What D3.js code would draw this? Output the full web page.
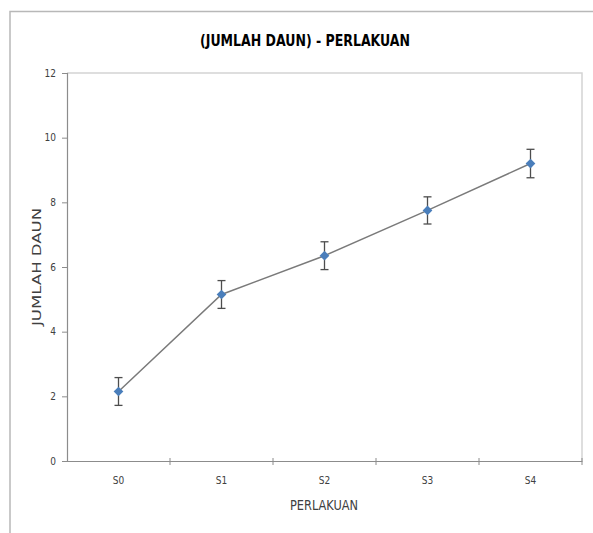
<!DOCTYPE html>
<html>
<head>
<meta charset="utf-8">
<script src="https://cdn.jsdelivr.net/npm/d3@7"></script>
<style>
    body { margin: 0; background: #fff; }
    svg { display: block; }
    .tick text { font-family: "Liberation Sans Narrow", "DejaVu Sans Condensed", sans-serif; font-size: 10px; fill: #404040; }
</style>
</head>
<body>
<div id="chart"></div>
<script>
// chart data
const categories = ['S0', 'S1', 'S2', 'S3', 'S4'];
const meanValues = [2.15, 5.15, 6.35, 7.75, 9.2];
const errorValues = [0.43, 0.43, 0.43, 0.42, 0.44];
const yTicks = [0, 2, 4, 6, 8, 10, 12];

const width = 593, height = 533;
const margin = { top: 73, right: 11, bottom: 72, left: 67 };
const fontNarrow = '"Liberation Sans Narrow", "DejaVu Sans Condensed", sans-serif';

const svg = d3.select('#chart').append('svg')
    .attr('width', width)
    .attr('height', height);

// outer chart frame
svg.append('rect')
    .attr('x', 10)
    .attr('y', 11.5)
    .attr('width', width + 20)
    .attr('height', height + 20)
    .attr('fill', 'none')
    .attr('stroke', '#b8b8b8')
    .attr('stroke-width', 1.5);

const xScale = d3.scaleBand()
    .domain(categories)
    .range([margin.left, width - margin.right])
    .padding(0);

const yScale = d3.scaleLinear()
    .domain([0, 12])
    .range([height - margin.bottom, margin.top]);

// plot area border (top + right)
svg.append('path')
    .attr('d', `M${margin.left},${yScale(12)}H${width - margin.right}V${yScale(0)}`)
    .attr('fill', 'none')
    .attr('stroke', '#d4d4d4')
    .attr('stroke-width', 1.5);

// y axis
const yAxisG = svg.append('g')
    .attr('transform', `translate(${margin.left},0)`)
    .call(d3.axisLeft(yScale).tickValues(yTicks).tickSize(5).tickPadding(6));
yAxisG.select('.domain').attr('stroke', '#8c8c8c').attr('stroke-width', 1.2);
yAxisG.selectAll('.tick line').attr('stroke', '#8c8c8c');

// x axis (labels only, ticks sit at category boundaries)
const xAxisG = svg.append('g')
    .attr('transform', `translate(0,${yScale(0)})`)
    .call(d3.axisBottom(xScale).tickSize(0).tickPadding(16));
xAxisG.select('.domain').attr('stroke', '#8c8c8c').attr('stroke-width', 1.2);

svg.append('g')
    .selectAll('line')
    .data(categories)
    .join('line')
    .attr('x1', d => xScale(d) + xScale.bandwidth())
    .attr('x2', d => xScale(d) + xScale.bandwidth())
    .attr('y1', yScale(0) - 3)
    .attr('y2', yScale(0) + 4)
    .attr('stroke', '#8c8c8c');

// title
svg.append('text')
    .attr('x', 305)
    .attr('y', 46)
    .attr('text-anchor', 'middle')
    .attr('textLength', 210)
    .attr('lengthAdjust', 'spacingAndGlyphs')
    .style('font-family', fontNarrow)
    .style('font-weight', 'bold')
    .style('font-size', '16px')
    .attr('fill', '#000')
    .text('(JUMLAH DAUN) - PERLAKUAN');

// axis titles
svg.append('text')
    .attr('transform', `translate(41,${(yScale(0) + yScale(12)) / 2}) rotate(-90)`)
    .attr('text-anchor', 'middle')
    .attr('textLength', 118)
    .attr('lengthAdjust', 'spacingAndGlyphs')
    .style('font-family', fontNarrow)
    .style('font-size', '13px')
    .attr('fill', '#404040')
    .text('JUMLAH DAUN');

svg.append('text')
    .attr('x', 324)
    .attr('y', 510)
    .attr('text-anchor', 'middle')
    .attr('textLength', 68)
    .attr('lengthAdjust', 'spacingAndGlyphs')
    .style('font-family', fontNarrow)
    .style('font-size', '14px')
    .attr('fill', '#404040')
    .text('PERLAKUAN');

const points = categories.map((c, i) => ({ cat: c, value: meanValues[i], err: errorValues[i] }));
const cx = d => xScale(d.cat) + xScale.bandwidth() / 2;

// connecting line
svg.append('path')
    .datum(points)
    .attr('fill', 'none')
    .attr('stroke', '#7a7a7a')
    .attr('stroke-width', 1.5)
    .attr('d', d3.line().x(cx).y(d => yScale(d.value)));

// error bars
const errG = svg.append('g').attr('stroke', '#4d4d4d').attr('stroke-width', 1.3);
errG.selectAll('.err-v')
    .data(points)
    .join('line')
    .attr('class', 'err-v')
    .attr('x1', cx).attr('x2', cx)
    .attr('y1', d => yScale(d.value + d.err))
    .attr('y2', d => yScale(d.value - d.err));
errG.selectAll('.err-top')
    .data(points)
    .join('line')
    .attr('class', 'err-top')
    .attr('x1', d => cx(d) - 4).attr('x2', d => cx(d) + 4)
    .attr('y1', d => yScale(d.value + d.err))
    .attr('y2', d => yScale(d.value + d.err));
errG.selectAll('.err-bot')
    .data(points)
    .join('line')
    .attr('class', 'err-bot')
    .attr('x1', d => cx(d) - 4).attr('x2', d => cx(d) + 4)
    .attr('y1', d => yScale(d.value - d.err))
    .attr('y2', d => yScale(d.value - d.err));

// diamond markers
svg.append('g')
    .selectAll('path')
    .data(points)
    .join('path')
    .attr('transform', d => `translate(${cx(d)},${yScale(d.value)})`)
    .attr('d', d3.symbol(d3.symbolDiamond2, 60))
    .attr('fill', '#4a7ebb');
</script>
</body>
</html>
